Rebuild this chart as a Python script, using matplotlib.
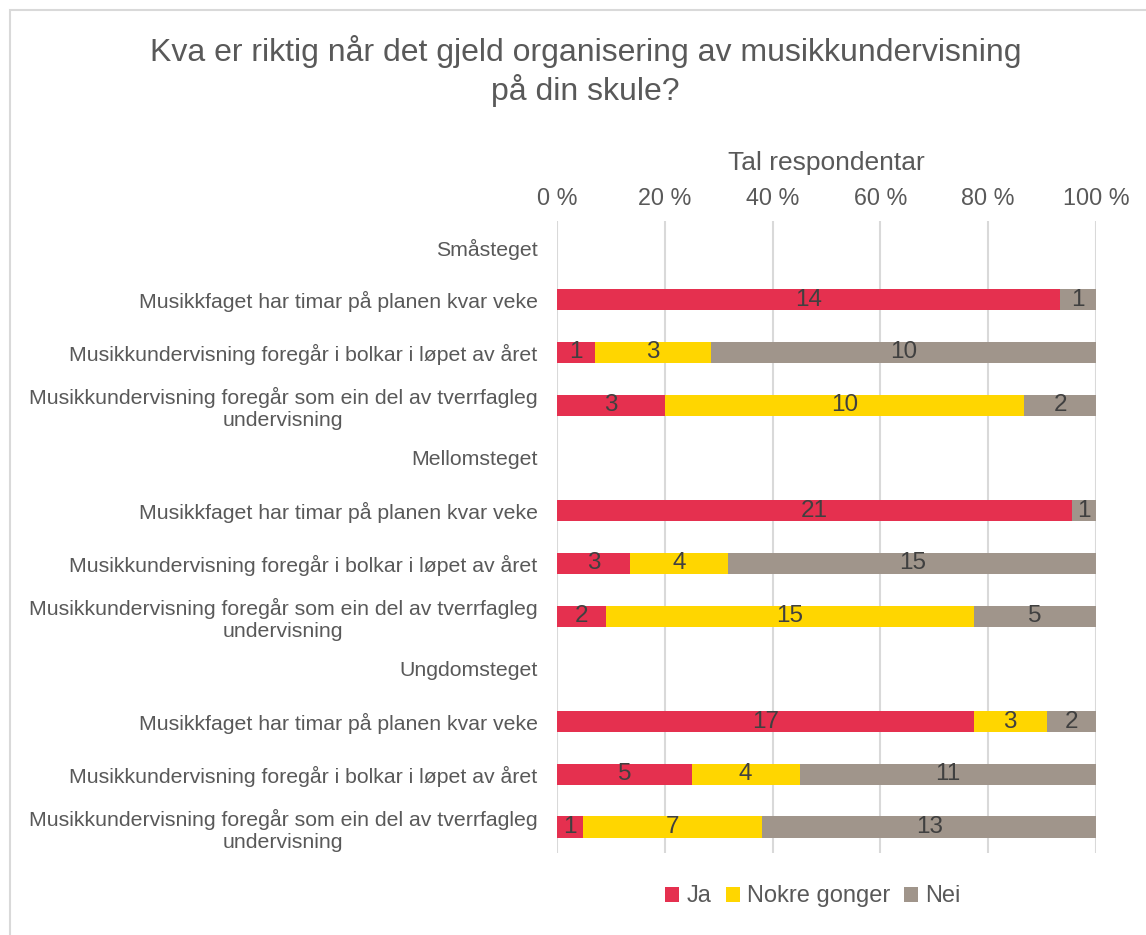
import numpy as np
import matplotlib.pyplot as plt
from matplotlib.patches import Rectangle

plt.rcParams['font.family'] = ['Liberation Sans', 'DejaVu Sans']

# kategoriar (ovanfrå og ned)
rader = [
    'Småsteget',
    'Musikkfaget har timar på planen kvar veke',
    'Musikkundervisning foregår i bolkar i løpet av året',
    'Musikkundervisning foregår som ein del av tverrfagleg\nundervisning',
    'Mellomsteget',
    'Musikkfaget har timar på planen kvar veke',
    'Musikkundervisning foregår i bolkar i løpet av året',
    'Musikkundervisning foregår som ein del av tverrfagleg\nundervisning',
    'Ungdomsteget',
    'Musikkfaget har timar på planen kvar veke',
    'Musikkundervisning foregår i bolkar i løpet av året',
    'Musikkundervisning foregår som ein del av tverrfagleg\nundervisning',
]
ja = [0, 14, 1, 3, 0, 21, 3, 2, 0, 17, 5, 1]
nokre = [0, 0, 3, 10, 0, 0, 4, 15, 0, 3, 4, 7]
nei = [0, 1, 10, 2, 0, 1, 15, 5, 0, 2, 11, 13]
serie_namn = ['Ja', 'Nokre gonger', 'Nei']
fargar = ['#E5304F', '#FFD600', '#A0958B']
x_ticks = [0, 20, 40, 60, 80, 100]

tekst = '#595959'

fig = plt.figure(figsize=(11.46, 9.35), dpi=100)
ax = fig.add_axes([0.486, 0.0873, 0.4704, 0.6767])

data = np.array([ja, nokre, nei], dtype=float)
total = data.sum(axis=0)
total[total == 0] = 1
pst = data / total * 100
y = np.arange(len(rader))

venstre = np.zeros(len(rader))
for i in range(3):
    bars = ax.barh(y, pst[i], left=venstre, height=0.4, color=fargar[i],
                   label=serie_namn[i], zorder=2)
    for j, b in enumerate(bars):
        if data[i, j] > 0:
            ax.text(venstre[j] + pst[i, j] / 2, y[j], '%d' % data[i, j],
                    ha='center', va='center', fontsize=17.5, color='#404040',
                    zorder=3)
    venstre += pst[i]

ax.set_xlim(0, 100)
ax.set_ylim(len(rader) - 0.5, -0.5)
ax.set_yticks(y)
ax.set_yticklabels(rader, fontsize=15.3, color=tekst)
for lbl in ax.get_yticklabels():
    lbl.set_multialignment('center')
ax.set_xticks(x_ticks)
ax.set_xticklabels(['%d %%' % v for v in x_ticks], fontsize=16.8, color=tekst)
ax.xaxis.tick_top()
ax.xaxis.set_label_position('top')
ax.set_xlabel('Tal respondentar', fontsize=19, color=tekst, labelpad=12)
ax.tick_params(axis='x', length=0, pad=8)
ax.tick_params(axis='y', length=0, pad=14)
ax.grid(axis='x', color='#D9D9D9', linewidth=1.5, zorder=0)
for s in ax.spines.values():
    s.set_visible(False)

fig.text(0.511, 0.924, 'Kva er riktig når det gjeld organisering av musikkundervisning\npå din skule?',
         ha='center', va='center', fontsize=23, color=tekst, linespacing=1.25)

ax.legend(loc='center', bbox_to_anchor=(0.475, -0.068), ncol=3, frameon=False,
          fontsize=17, handlelength=0.6, handleheight=0.6, handletextpad=0.3,
          columnspacing=0.6, labelcolor=tekst)

fig.patches.append(Rectangle((10 / 1146, -0.1), 1.2, 1 - 10 / 935 + 0.1,
                             transform=fig.transFigure, fill=False,
                             edgecolor='#D9D9D9', linewidth=1.5))

fig.savefig('out.png', dpi=100)
